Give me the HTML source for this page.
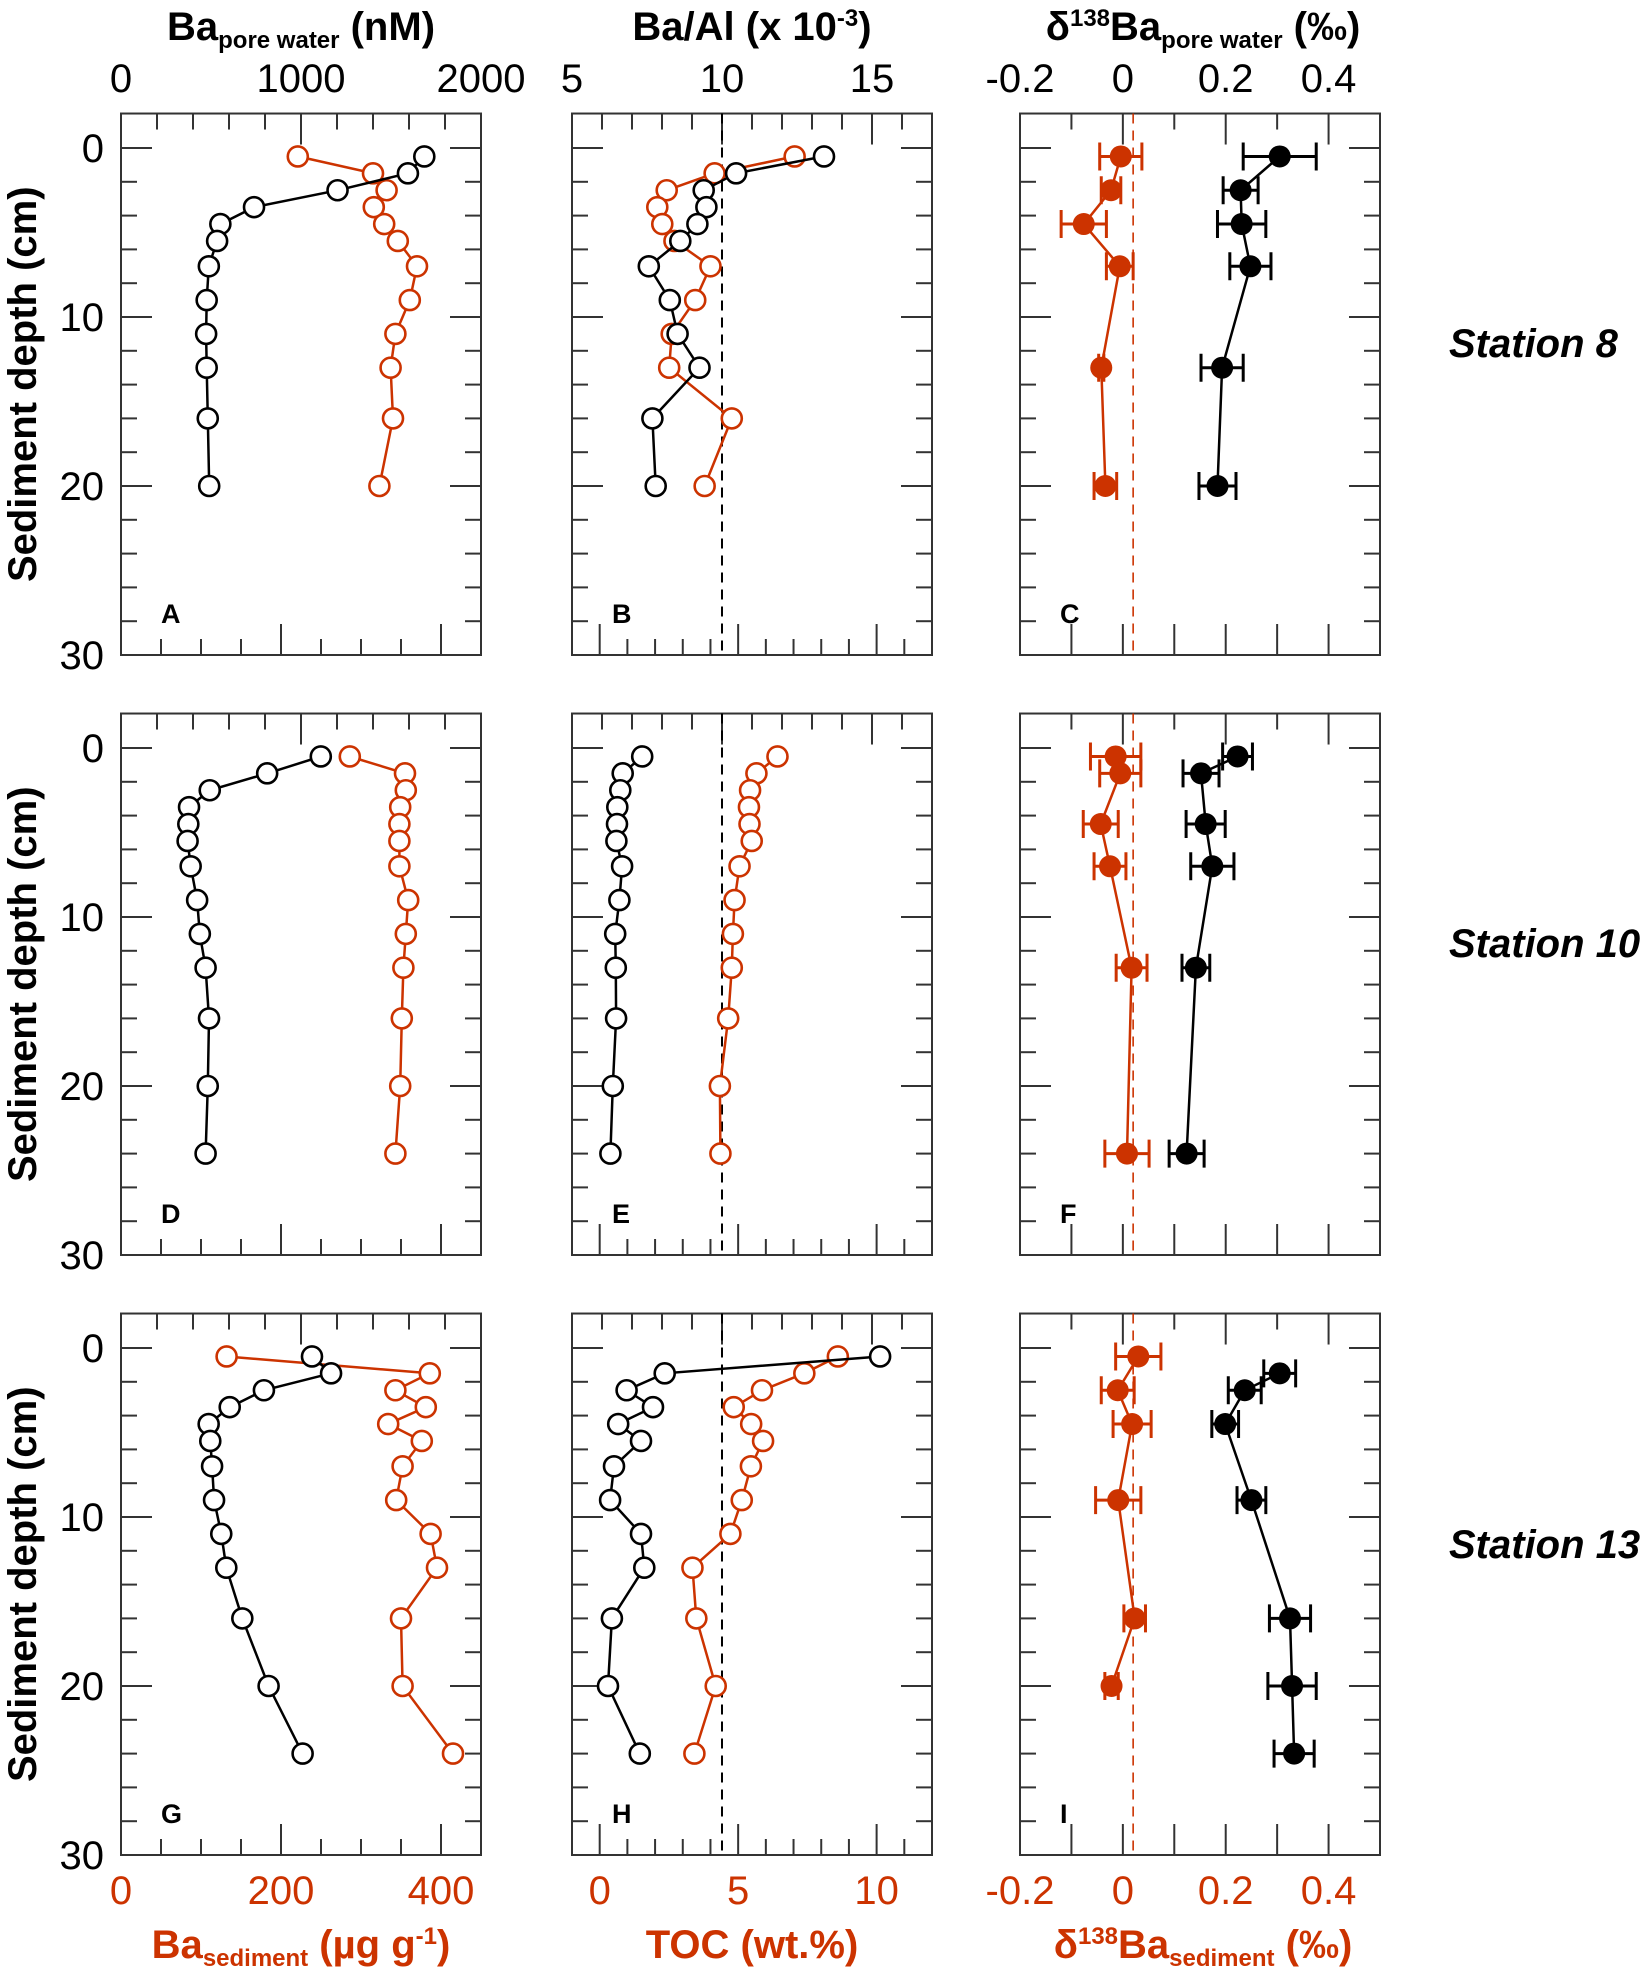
<!DOCTYPE html>
<html><head><meta charset="utf-8"><style>
html,body{margin:0;padding:0;background:#fff;}
svg{display:block;font-family:"Liberation Sans",Arial,sans-serif;}
</style></head><body>
<svg id="fig" width="1646" height="1976" viewBox="0 0 1646 1976" xmlns="http://www.w3.org/2000/svg">
<g font-weight="bold" font-size="40" text-anchor="middle">
<text x="301" y="40">Ba<tspan font-size="24" dy="8">pore water</tspan><tspan dy="-8"> (nM)</tspan></text>
<text x="752" y="40">Ba/Al (x 10<tspan font-size="24" dy="-14">-3</tspan><tspan dy="14">)</tspan></text>
<text x="1203" y="40">δ<tspan font-size="24" dy="-14">138</tspan><tspan dy="14">Ba</tspan><tspan font-size="24" dy="8">pore water</tspan><tspan dy="-8"> (‰)</tspan></text>
</g>
<g font-weight="bold" font-size="40" text-anchor="middle" fill="#cc3300">
<text x="301" y="1958">Ba<tspan font-size="24" dy="8">sediment</tspan><tspan dy="-8"> (µg g</tspan><tspan font-size="24" dy="-14">-1</tspan><tspan dy="14">)</tspan></text>
<text x="752" y="1958">TOC (wt.%)</text>
<text x="1203" y="1958">δ<tspan font-size="24" dy="-14">138</tspan><tspan dy="14">Ba</tspan><tspan font-size="24" dy="8">sediment</tspan><tspan dy="-8"> (‰)</tspan></text>
</g>
<g font-weight="bold" font-style="italic" font-size="40">
<text x="1449" y="357">Station 8</text>
<text x="1449" y="957">Station 10</text>
<text x="1449" y="1558">Station 13</text>
</g>
<g id="plots"></g>
</svg>
<script>
// ---- data ----
const depth8 = [0.5,1.5,2.5,3.5,4.5,5.5,7,9,11,13,16,20];
const baPw8 = [1685,1594,1203,739,552,534,488,476,473,476,482,490];
const baSed8 = [221,315,332,316,329,346,370,361,343,337,340,323];
const baAl8 = [13.4,10.47,9.39,9.48,9.18,8.61,7.56,8.26,8.52,9.25,7.68,7.79];
const toc8 = [7.04,4.15,2.42,2.08,2.26,2.7,4.0,3.45,2.6,2.51,4.77,3.79];
const depthIso8 = [0.5,2.5,4.5,7,13,20];
const dPw8 = [0.305,0.229,0.231,0.248,0.193,0.184];
const dPwErr8 = [0.071,0.034,0.047,0.040,0.041,0.036];
const dSed8 = [-0.004,-0.023,-0.076,-0.006,-0.042,-0.034];
const dSedErr8 = [0.041,0.019,0.044,0.026,0.005,0.022];

const depth10 = [0.5,1.5,2.5,3.5,4.5,5.5,7,9,11,13,16,20,24];
const baPw10 = [1110,812,493,378,374,370,387,423,438,470,489,482,470];
const baSed10 = [286,355,356,349,348,348,348,359,356,353,351,349,343];
const baAl10 = [7.34,6.69,6.61,6.51,6.50,6.48,6.67,6.58,6.44,6.46,6.47,6.36,6.28];
const toc10 = [6.42,5.66,5.43,5.39,5.41,5.49,5.05,4.87,4.81,4.77,4.64,4.34,4.36];
const depthIso10 = [0.5,1.5,4.5,7,13,24];
const dPw10 = [0.223,0.152,0.161,0.174,0.142,0.124];
const dPwErr10 = [0.029,0.035,0.038,0.042,0.027,0.034];
const dSed10 = [-0.014,-0.005,-0.043,-0.025,0.017,0.008];
const dSedErr10 = [0.049,0.040,0.034,0.031,0.030,0.043];

const depth13 = [0.5,1.5,2.5,3.5,4.5,5.5,7,9,11,13,16,20,24];
const baPw13 = [1061,1167,794,604,487,496,506,517,557,585,674,820,1009];
const baSed13 = [132,386,343,381,334,376,352,344,387,395,350,352,415];
const baAl13 = [15.27,8.09,6.82,7.70,6.54,7.30,6.40,6.27,7.30,7.41,6.33,6.20,7.26];
const toc13 = [8.60,7.39,5.86,4.84,5.47,5.90,5.46,5.13,4.72,3.35,3.49,4.19,3.42];
const depthIsoPw13 = [1.5,2.5,4.5,9,16,20,24];
const dPw13 = [0.305,0.237,0.199,0.250,0.325,0.329,0.333];
const dPwErr13 = [0.031,0.032,0.026,0.028,0.040,0.047,0.039];
const depthIsoSed13 = [0.5,2.5,4.5,9,16,20];
const dSed13 = [0.030,-0.010,0.018,-0.009,0.023,-0.022];
const dSedErr13 = [0.044,0.032,0.037,0.044,0.021,0.013];

const depthTicks = [0,10,20,30];
const topTicksA = [0,1000,2000];
const topTicksB = [5,10,15];
const topTicksC = [-0.2,0,0.2,0.4];
const botTicksA = [0,200,400];
const botTicksB = [0,5,10];
const botTicksC = [-0.2,0,0.2,0.4];
const panelLetters = ['A','B','C','D','E','F','G','H','I'];

// ---- layout ----
const NS = 'http://www.w3.org/2000/svg';
const RED = '#cc3300';
const colX = [121,572,1020], W = 360;
const rowY0 = [148,748,1348], UNIT = 16.9;
const plots = document.getElementById('plots');
function mk(tag, attrs, parent){
  const e = document.createElementNS(NS, tag);
  for (const k in attrs) e.setAttribute(k, attrs[k]);
  (parent||plots).appendChild(e);
  return e;
}
function linScale(d0,d1,r0,r1){ return v => r0 + (v-d0)/(d1-d0)*(r1-r0); }
const topDom = [[0,2000],[5,17],[-0.2,0.5]];
const botDom = [[0,450],[-1,12],[-0.2,0.5]];
const topStep = [200,1,0.1], botStep = [50,1,0.1];
const topMajor = [topTicksA, topTicksB, topTicksC];
const botMajor = [botTicksA, botTicksB, botTicksC];

function fmt(v){ return String(Math.round(v*10)/10); }

for (let r=0; r<3; r++){
  for (let c=0; c<3; c++){
    const x0 = colX[c], x1 = x0+W;
    const y = linScale(0,30,rowY0[r],rowY0[r]+30*UNIT);
    const yTop = y(-2.04), yBot = y(30);
    const g = mk('g', {});
    
    
    const box = mk('rect', {x:x0, y:yTop, width:W, height:yBot-yTop, fill:'none', stroke:'#333', 'stroke-width':2}, g);
    
    
    for (let d=0; d<30; d+=2){
      const L = (d%10===0)?31:16;
      const t1 = mk('line',{x1:x0,x2:x0+L,y1:y(d),y2:y(d),stroke:'#333','stroke-width':2},g);
      
      
      const t2 = mk('line',{x1:x1-L,x2:x1,y1:y(d),y2:y(d),stroke:'#333','stroke-width':2},g);
      
      
    }
    const xt = linScale(topDom[c][0],topDom[c][1],x0,x1);
    for (let v=topDom[c][0]+topStep[c]; v<topDom[c][1]-1e-9; v+=topStep[c]){
      const isMaj = topMajor[c].some(m=>Math.abs(m-v)<1e-6);
      const L = isMaj?31:16;
      const t = mk('line',{x1:xt(v),x2:xt(v),y1:yTop,y2:yTop+L,stroke:'#333','stroke-width':2},g);
      
      
    }
    const xb = linScale(botDom[c][0],botDom[c][1],x0,x1);
    for (let v=botDom[c][0]+botStep[c]; v<botDom[c][1]-1e-9; v+=botStep[c]){
      const isMaj = c===2 || botMajor[c].some(m=>Math.abs(m-v)<1e-6);
      const L = isMaj?31:16;
      const t = mk('line',{x1:xb(v),x2:xb(v),y1:yBot,y2:yBot-L,stroke:'#333','stroke-width':2},g);
      
      
    }
    if (r===0){
      topMajor[c].forEach(v=>{
        const t = mk('text',{x:xt(v),y:92,'font-size':40,'text-anchor':'middle'});
        t.textContent = fmt(v);
        
        
      });
    }
    if (r===2){
      botMajor[c].forEach(v=>{
        const t = mk('text',{x:xb(v),y:1904,'font-size':40,'text-anchor':'middle',fill:RED});
        t.textContent = fmt(v);
        
        
      });
    }
    if (c===0){
      depthTicks.forEach(v=>{
        const t = mk('text',{x:104,y:y(v)+14,'font-size':40,'text-anchor':'end'});
        t.textContent = String(v);
        
        
      });
      const yt = mk('text',{x:0,y:0,'font-size':40,'font-weight':'bold','text-anchor':'middle',
        transform:'translate(36,'+((yTop+yBot)/2)+') rotate(-90)'});
      yt.textContent = 'Sediment depth (cm)';
      
      
    }
    const pl = mk('text',{x:x0+40,y:y(28.1),'font-size':27,'font-weight':'bold'},g);
    pl.textContent = panelLetters[r*3+c];
    
    
    if (c===1){
      const dl = mk('line',{x1:xt(10),x2:xt(10),y1:yTop,y2:yBot,stroke:'#000','stroke-width':2,'stroke-dasharray':'10,7'},g);
      
      
    }
    if (c===2){
      const dl = mk('line',{x1:xt(0.02),x2:xt(0.02),y1:yTop,y2:yBot,stroke:RED,'stroke-width':1.6,'stroke-dasharray':'10,7'},g);
      
      
    }
  }
}

function drawOpen(c, r, xs, ds, dom, color, name){
  const x = linScale(dom[0],dom[1],colX[c],colX[c]+W);
  const y = linScale(0,30,rowY0[r],rowY0[r]+30*UNIT);
  const pts = xs.map((v,i)=>x(v).toFixed(1)+','+y(ds[i]).toFixed(1)).join(' ');
  const pl = mk('polyline',{points:pts,fill:'none',stroke:color,'stroke-width':2.5});
  
  
  xs.forEach((v,i)=>{
    const ci = mk('circle',{cx:x(v),cy:y(ds[i]),r:10,fill:'#fff',stroke:color,'stroke-width':2.6});
    
    
  });
}
function drawFilled(c, r, xs, errs, ds, color, name){
  const x = linScale(-0.2,0.5,colX[c],colX[c]+W);
  const y = linScale(0,30,rowY0[r],rowY0[r]+30*UNIT);
  const pts = xs.map((v,i)=>x(v).toFixed(1)+','+y(ds[i]).toFixed(1)).join(' ');
  const pl = mk('polyline',{points:pts,fill:'none',stroke:color,'stroke-width':2.5});
  
  
  xs.forEach((v,i)=>{
    const yy = y(ds[i]), xl = x(v-errs[i]), xr = x(v+errs[i]);
    const eb = mk('path',{d:'M'+xl+','+yy+'H'+xr+'M'+xl+','+(yy-14)+'V'+(yy+14)+'M'+xr+','+(yy-14)+'V'+(yy+14),stroke:color,'stroke-width':3,fill:'none'});
    
    
    const ci = mk('circle',{cx:x(v),cy:yy,r:11,fill:color});
    
    
  });
}
drawOpen(0,0,baSed8,depth8,botDom[0],RED,'ba-sediment-st8');
drawOpen(0,0,baPw8,depth8,topDom[0],'#000','ba-pore-water-st8');
drawOpen(1,0,toc8,depth8,botDom[1],RED,'toc-st8');
drawOpen(1,0,baAl8,depth8,topDom[1],'#000','ba-al-st8');
drawFilled(2,0,dSed8,dSedErr8,depthIso8,RED,'d138ba-sediment-st8');
drawFilled(2,0,dPw8,dPwErr8,depthIso8,'#000','d138ba-pore-water-st8');
drawOpen(0,1,baSed10,depth10,botDom[0],RED,'ba-sediment-st10');
drawOpen(0,1,baPw10,depth10,topDom[0],'#000','ba-pore-water-st10');
drawOpen(1,1,toc10,depth10,botDom[1],RED,'toc-st10');
drawOpen(1,1,baAl10,depth10,topDom[1],'#000','ba-al-st10');
drawFilled(2,1,dSed10,dSedErr10,depthIso10,RED,'d138ba-sediment-st10');
drawFilled(2,1,dPw10,dPwErr10,depthIso10,'#000','d138ba-pore-water-st10');
drawOpen(0,2,baSed13,depth13,botDom[0],RED,'ba-sediment-st13');
drawOpen(0,2,baPw13,depth13,topDom[0],'#000','ba-pore-water-st13');
drawOpen(1,2,toc13,depth13,botDom[1],RED,'toc-st13');
drawOpen(1,2,baAl13,depth13,topDom[1],'#000','ba-al-st13');
drawFilled(2,2,dSed13,dSedErr13,depthIsoSed13,RED,'d138ba-sediment-st13');
drawFilled(2,2,dPw13,dPwErr13,depthIsoPw13,'#000','d138ba-pore-water-st13');
</script>
</body></html>
